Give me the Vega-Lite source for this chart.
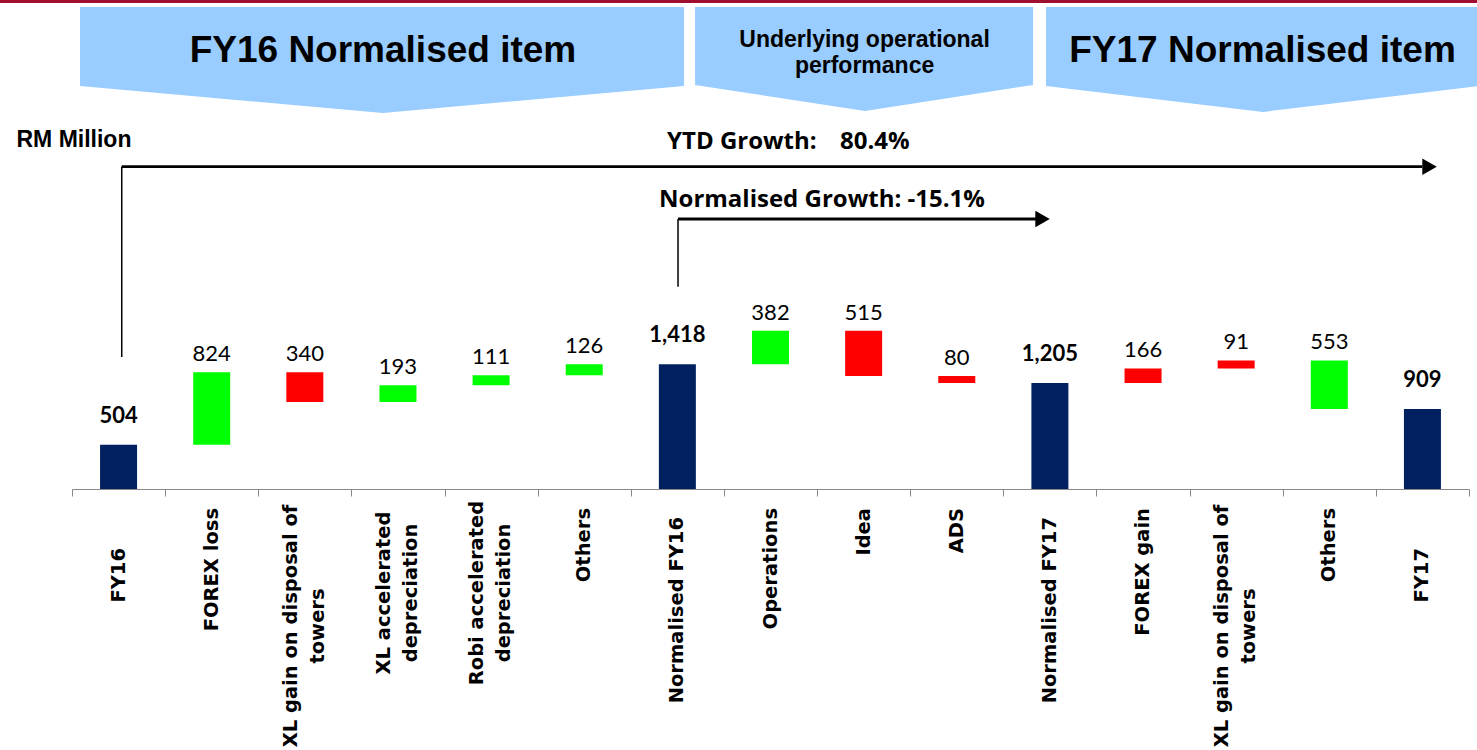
{
  "$schema": "https://vega.github.io/schema/vega-lite/v6.json",
  "width": 1397,
  "height": 489,
  "autosize": {"type": "none"},
  "padding": {"left": 72, "top": 0, "right": 8, "bottom": 261},
  "background": "white",
  "config": {
    "view": {"stroke": null},
    "bar": {"continuousBandSize": 37},
    "scale": {"continuousPadding": 0},
    "axisX": {"labels": false, "titleOpacity": 0, "tickSize": 7, "tickColor": "#898989", "domainColor": "#898989", "domainWidth": 1, "grid": false}
  },
  "data": {"values": [
    {"cat": "FY16", "value": 504, "low": 0, "high": 504, "type": "Total"},
    {"cat": "FOREX loss", "value": 824, "low": 504, "high": 1328, "type": "Positive"},
    {"cat": "XL gain on disposal of|towers", "value": 340, "low": 988, "high": 1328, "type": "Negative"},
    {"cat": "XL accelerated|depreciation", "value": 193, "low": 988, "high": 1181, "type": "Positive"},
    {"cat": "Robi accelerated|depreciation", "value": 111, "low": 1181, "high": 1292, "type": "Positive"},
    {"cat": "Others", "value": 126, "low": 1292, "high": 1418, "type": "Positive"},
    {"cat": "Normalised FY16", "value": 1418, "low": 0, "high": 1418, "type": "Total"},
    {"cat": "Operations", "value": 382, "low": 1418, "high": 1800, "type": "Positive"},
    {"cat": "Idea", "value": 515, "low": 1285, "high": 1800, "type": "Negative"},
    {"cat": "ADS", "value": 80, "low": 1205, "high": 1285, "type": "Negative"},
    {"cat": "Normalised FY17", "value": 1205, "low": 0, "high": 1205, "type": "Total"},
    {"cat": "FOREX gain", "value": 166, "low": 1205, "high": 1371, "type": "Negative"},
    {"cat": "XL gain on disposal of|towers", "value": 91, "low": 1371, "high": 1462, "type": "Negative"},
    {"cat": "Others", "value": 553, "low": 909, "high": 1462, "type": "Positive"},
    {"cat": "FY17", "value": 909, "low": 0, "high": 909, "type": "Total"}
  ]},
  "transform": [{"window": [{"op": "row_number", "as": "idx"}]}],
  "layer": [
    {
      "mark": {"type": "bar"},
      "encoding": {
        "x": {
          "field": "idx",
          "type": "quantitative",
          "scale": {"domain": [0.5, 15.5], "nice": false, "zero": false, "padding": 0},
          "axis": {
            "orient": "bottom",
            "values": [0.5, 1.5, 2.5, 3.5, 4.5, 5.5, 6.5, 7.5, 8.5, 9.5, 10.5, 11.5, 12.5, 13.5, 14.5, 15.5]
          }
        },
        "y": {"field": "low", "type": "quantitative", "scale": {"domain": [0, 5560], "nice": false}, "axis": null},
        "y2": {"field": "high"},
        "color": {
          "field": "type",
          "type": "nominal",
          "scale": {"domain": ["Total", "Positive", "Negative"], "range": ["#002060", "#00FF00", "#FF0000"]},
          "legend": null
        }
      }
    },
    {
      "transform": [{"filter": "datum.type != 'Total'"}],
      "mark": {"type": "text", "font": "Lato", "fontSize": 22, "baseline": "alphabetic", "dy": -11, "color": "#000000"},
      "encoding": {
        "x": {"field": "idx", "type": "quantitative", "scale": {"domain": [0.5, 15.5], "nice": false, "zero": false, "padding": 0}},
        "y": {"field": "high", "type": "quantitative", "scale": {"domain": [0, 5560], "nice": false}, "axis": null},
        "text": {"field": "value", "type": "quantitative", "format": ",d"}
      }
    },
    {
      "transform": [{"filter": "datum.type == 'Total'"}],
      "mark": {"type": "text", "font": "Lato", "fontSize": 22, "fontWeight": "bold", "baseline": "alphabetic", "dy": -22, "color": "#000000"},
      "encoding": {
        "x": {"field": "idx", "type": "quantitative", "scale": {"domain": [0.5, 15.5], "nice": false, "zero": false, "padding": 0}},
        "y": {"field": "high", "type": "quantitative", "scale": {"domain": [0, 5560], "nice": false}, "axis": null},
        "text": {"field": "value", "type": "quantitative", "format": ",d"}
      }
    },
    {
      "transform": [{"filter": "indexof(datum.cat, '|') < 0 && datum.type != 'Total'"}],
      "mark": {"type": "text", "font": "DejaVu Sans", "fontWeight": "bold", "fontSize": 19.5, "angle": 270, "align": "right", "baseline": "middle", "dx": -19, "color": "#000000"},
      "encoding": {
        "x": {"field": "idx", "type": "quantitative", "scale": {"domain": [0.5, 15.5], "nice": false, "zero": false, "padding": 0}},
        "y": {"datum": 0, "type": "quantitative", "scale": {"domain": [0, 5560], "nice": false}, "axis": null},
        "text": {"field": "cat"}
      }
    },
    {
      "transform": [{"filter": "datum.cat == 'FY16' || datum.cat == 'FY17'"}],
      "mark": {"type": "text", "font": "DejaVu Sans", "fontWeight": "bold", "fontSize": 19.5, "angle": 270, "align": "right", "baseline": "middle", "dx": -59, "color": "#000000"},
      "encoding": {
        "x": {"field": "idx", "type": "quantitative", "scale": {"domain": [0.5, 15.5], "nice": false, "zero": false, "padding": 0}},
        "y": {"datum": 0, "type": "quantitative", "scale": {"domain": [0, 5560], "nice": false}, "axis": null},
        "text": {"field": "cat"}
      }
    },
    {
      "transform": [{"filter": "datum.cat == 'Normalised FY16' || datum.cat == 'Normalised FY17'"}],
      "mark": {"type": "text", "font": "DejaVu Sans", "fontWeight": "bold", "fontSize": 19.5, "angle": 270, "align": "right", "baseline": "middle", "dx": -28, "color": "#000000"},
      "encoding": {
        "x": {"field": "idx", "type": "quantitative", "scale": {"domain": [0.5, 15.5], "nice": false, "zero": false, "padding": 0}},
        "y": {"datum": 0, "type": "quantitative", "scale": {"domain": [0, 5560], "nice": false}, "axis": null},
        "text": {"field": "cat"}
      }
    },
    {
      "transform": [{"filter": "indexof(datum.cat, 'XL gain') == 0"}],
      "mark": {"type": "text", "font": "DejaVu Sans", "fontWeight": "bold", "fontSize": 19.5, "angle": 270, "align": "center", "baseline": "line-bottom", "lineBreak": "|", "lineHeight": 27, "dx": -137, "color": "#000000"},
      "encoding": {
        "x": {"field": "idx", "type": "quantitative", "scale": {"domain": [0.5, 15.5], "nice": false, "zero": false, "padding": 0}},
        "y": {"datum": 0, "type": "quantitative", "scale": {"domain": [0, 5560], "nice": false}, "axis": null},
        "text": {"field": "cat"}
      }
    },
    {
      "transform": [{"filter": "indexof(datum.cat, 'accelerated') > 0"}],
      "mark": {"type": "text", "font": "DejaVu Sans", "fontWeight": "bold", "fontSize": 19.5, "angle": 270, "align": "center", "baseline": "line-bottom", "lineBreak": "|", "lineHeight": 27, "dx": -104, "color": "#000000"},
      "encoding": {
        "x": {"field": "idx", "type": "quantitative", "scale": {"domain": [0.5, 15.5], "nice": false, "zero": false, "padding": 0}},
        "y": {"datum": 0, "type": "quantitative", "scale": {"domain": [0, 5560], "nice": false}, "axis": null},
        "text": {"field": "cat"}
      }
    },
    {
      "data": {"values": [{"x": -0.3, "x2": 15.6, "y": 5543}]},
      "mark": {"type": "rule", "color": "#A0102E", "strokeWidth": 3},
      "encoding": {
        "x": {"field": "x", "type": "quantitative", "scale": {"domain": [0.5, 15.5], "nice": false, "zero": false, "padding": 0}},
        "x2": {"field": "x2"},
        "y": {"field": "y", "type": "quantitative", "scale": {"domain": [0, 5560], "nice": false}, "axis": null}
      }
    },
    {
      "data": {"values": [
        {"banner": "A", "x": 0.586, "top": 5480, "bottom": 4582},
        {"banner": "A", "x": 3.839, "top": 5480, "bottom": 4275},
        {"banner": "A", "x": 7.072, "top": 5480, "bottom": 4582},
        {"banner": "B", "x": 7.19, "top": 5480, "bottom": 4594},
        {"banner": "B", "x": 9.015, "top": 5480, "bottom": 4298},
        {"banner": "B", "x": 10.819, "top": 5480, "bottom": 4594},
        {"banner": "C", "x": 10.958, "top": 5480, "bottom": 4582},
        {"banner": "C", "x": 13.288, "top": 5480, "bottom": 4287},
        {"banner": "C", "x": 15.618, "top": 5480, "bottom": 4582}
      ]},
      "mark": {"type": "area", "color": "#99CCFF", "opacity": 1},
      "encoding": {
        "x": {"field": "x", "type": "quantitative", "scale": {"domain": [0.5, 15.5], "nice": false, "zero": false, "padding": 0}},
        "y": {"field": "top", "type": "quantitative", "scale": {"domain": [0, 5560], "nice": false}, "axis": null},
        "y2": {"field": "bottom"},
        "detail": {"field": "banner", "type": "nominal"}
      }
    },
    {
      "data": {"values": [
        {"t": "FY16 Normalised item", "x": 3.839, "y": 4855},
        {"t": "FY17 Normalised item", "x": 13.283, "y": 4855}
      ]},
      "mark": {"type": "text", "font": "Liberation Sans", "fontWeight": "bold", "fontSize": 37, "align": "center", "baseline": "alphabetic", "color": "#000000"},
      "encoding": {
        "x": {"field": "x", "type": "quantitative", "scale": {"domain": [0.5, 15.5], "nice": false, "zero": false, "padding": 0}},
        "y": {"field": "y", "type": "quantitative", "scale": {"domain": [0, 5560], "nice": false}, "axis": null},
        "text": {"field": "t"}
      }
    },
    {
      "data": {"values": [
        {"t": "Underlying operational\nperformance", "x": 9.01, "y": 5029}
      ]},
      "mark": {"type": "text", "font": "Liberation Sans", "fontWeight": "bold", "fontSize": 23, "lineHeight": 26, "lineBreak": "\n", "align": "center", "baseline": "alphabetic", "color": "#000000"},
      "encoding": {
        "x": {"field": "x", "type": "quantitative", "scale": {"domain": [0.5, 15.5], "nice": false, "zero": false, "padding": 0}},
        "y": {"field": "y", "type": "quantitative", "scale": {"domain": [0, 5560], "nice": false}, "axis": null},
        "text": {"field": "t"}
      }
    },
    {
      "data": {"values": [
        {"t": "RM Million", "x": -0.096, "y": 3892}
      ]},
      "mark": {"type": "text", "font": "Liberation Sans", "fontWeight": "bold", "fontSize": 23, "align": "left", "baseline": "alphabetic", "color": "#000000"},
      "encoding": {
        "x": {"field": "x", "type": "quantitative", "scale": {"domain": [0.5, 15.5], "nice": false, "zero": false, "padding": 0}},
        "y": {"field": "y", "type": "quantitative", "scale": {"domain": [0, 5560], "nice": false}, "axis": null},
        "text": {"field": "t"}
      }
    },
    {
      "data": {"values": [
        {"t": "YTD Growth:", "x": 6.889, "y": 3862},
        {"t": "80.4%", "x": 8.746, "y": 3862},
        {"t": "Normalised Growth: -15.1%", "x": 6.803, "y": 3203}
      ]},
      "mark": {"type": "text", "font": "Open Sans", "fontWeight": "bold", "fontSize": 24, "align": "left", "baseline": "alphabetic", "color": "#000000"},
      "encoding": {
        "x": {"field": "x", "type": "quantitative", "scale": {"domain": [0.5, 15.5], "nice": false, "zero": false, "padding": 0}},
        "y": {"field": "y", "type": "quantitative", "scale": {"domain": [0, 5560], "nice": false}, "axis": null},
        "text": {"field": "t"}
      }
    },
    {
      "data": {"values": [
        {"x": 1.034, "y": 1501, "y2": 3665},
        {"x": 7.007, "y": 2300, "y2": 3070}
      ]},
      "mark": {"type": "rule", "color": "#000000", "strokeWidth": 1.5},
      "encoding": {
        "x": {"field": "x", "type": "quantitative", "scale": {"domain": [0.5, 15.5], "nice": false, "zero": false, "padding": 0}},
        "y": {"field": "y", "type": "quantitative", "scale": {"domain": [0, 5560], "nice": false}, "axis": null},
        "y2": {"field": "y2"}
      }
    },
    {
      "data": {"values": [
        {"x": 1.034, "x2": 15.0, "y": 3665},
        {"x": 7.007, "x2": 10.85, "y": 3070}
      ]},
      "mark": {"type": "rule", "color": "#000000", "strokeWidth": 2.8},
      "encoding": {
        "x": {"field": "x", "type": "quantitative", "scale": {"domain": [0.5, 15.5], "nice": false, "zero": false, "padding": 0}},
        "x2": {"field": "x2"},
        "y": {"field": "y", "type": "quantitative", "scale": {"domain": [0, 5560], "nice": false}, "axis": null}
      }
    },
    {
      "data": {"values": [
        {"x": 15.076, "y": 3665},
        {"x": 10.921, "y": 3070}
      ]},
      "mark": {"type": "point", "shape": "M-0.88,-1L0.88,0L-0.88,1Z", "size": 270, "filled": true, "color": "#000000", "opacity": 1},
      "encoding": {
        "x": {"field": "x", "type": "quantitative", "scale": {"domain": [0.5, 15.5], "nice": false, "zero": false, "padding": 0}},
        "y": {"field": "y", "type": "quantitative", "scale": {"domain": [0, 5560], "nice": false}, "axis": null}
      }
    }
  ]
}
